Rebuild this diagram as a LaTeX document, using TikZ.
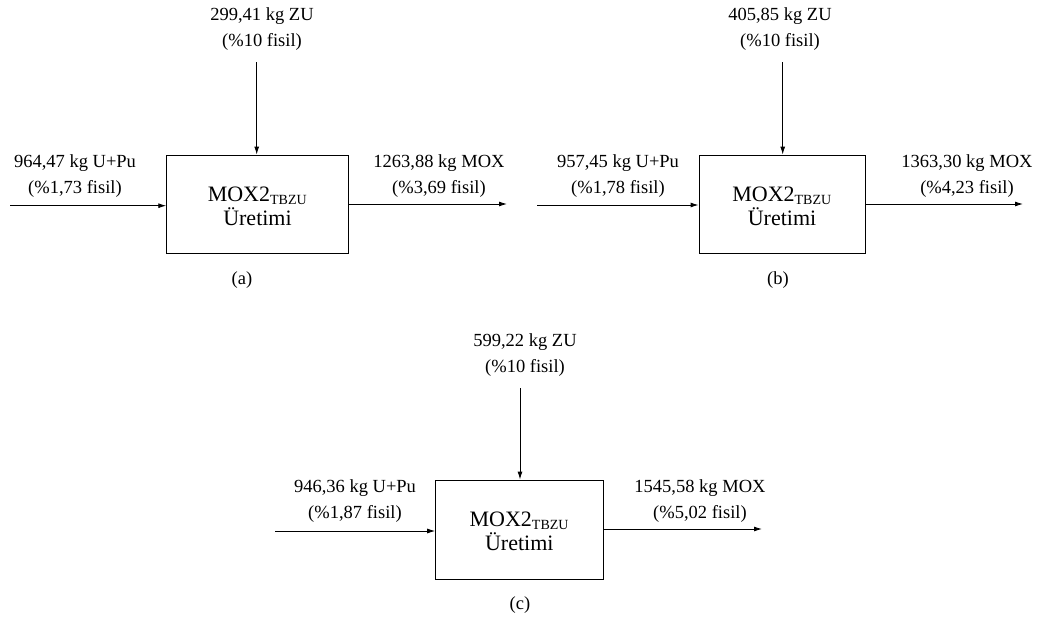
\documentclass[tikz,border=0pt]{standalone}
\usepackage{fontspec}
\setmainfont{Liberation Serif}
\usetikzlibrary{arrows.meta}
\begin{document}
\begin{tikzpicture}[x=1pt,y=-1pt,
  flow/.style={line width=0.9pt,-{Latex[length=8pt,width=5pt]}},
  procbox/.style={draw,line width=0.9pt,inner sep=0pt},
  lbl/.style={font=\fontsize{18.5}{26}\selectfont,align=center,inner sep=0pt},
  proclbl/.style={font=\fontsize{22}{26}\selectfont,align=center,inner sep=0pt},
  sublabel/.style={font=\fontsize{18.5}{22}\selectfont,inner sep=0pt}]
\useasboundingbox (0,0) rectangle (1037,621);
\newcommand{\proctext}{MOX2\textsubscript{\fontsize{14}{14}\selectfont TBZU}\\[-2pt]Üretimi}

% (a)
\node[procbox,minimum width=181.6pt,minimum height=98pt] (ba) at (257.5,204) {};
\node[proclbl] (ta) at (257.5,206) {\proctext};
\coordinate (ia) at (10,205.7);
\coordinate (za) at (256.7,62);
\coordinate (oa) at (507,204);
\draw[flow] (ia) -- (ia -| ba.west);
\draw[flow] (za) -- (za |- ba.north);
\draw[flow] (oa -| ba.east) -- (oa);
\node[lbl] (la) at (75,176) {964,47 kg U+Pu\\(\%1,73 fisil)};
\node[lbl] (ua) at (262,29.5) {299,41 kg ZU\\(\%10 fisil)};
\node[lbl] (ra) at (439,176) {1263,88 kg MOX\\(\%3,69 fisil)};
\node[sublabel] (ca) at (242,280) {(a)};

% (b)
\node[procbox,minimum width=166pt,minimum height=98pt] (bb) at (782,204) {};
\node[proclbl] (tb) at (782,206) {\proctext};
\coordinate (ib) at (537,205);
\coordinate (zb) at (782.7,62);
\coordinate (ob) at (1023,204);
\draw[flow] (ib) -- (ib -| bb.west);
\draw[flow] (zb) -- (zb |- bb.north);
\draw[flow] (ob -| bb.east) -- (ob);
\node[lbl] (lb) at (618,176) {957,45 kg U+Pu\\(\%1,78 fisil)};
\node[lbl] (ub) at (780,29.5) {405,85 kg ZU\\(\%10 fisil)};
\node[lbl] (rb) at (967,176) {1363,30 kg MOX\\(\%4,23 fisil)};
\node[sublabel] (cb) at (778,280) {(b)};

% (c)
\node[procbox,minimum width=167.3pt,minimum height=99pt] (bc) at (519.3,529.5) {};
\node[proclbl] (tc) at (519.3,531.5) {\proctext};
\coordinate (ic) at (275,531);
\coordinate (zc) at (520,388);
\coordinate (oc) at (762,529);
\draw[flow] (ic) -- (ic -| bc.west);
\draw[flow] (zc) -- (zc |- bc.north);
\draw[flow] (oc -| bc.east) -- (oc);
\node[lbl] (lc) at (355,501) {946,36 kg U+Pu\\(\%1,87 fisil)};
\node[lbl] (uc) at (525,355.5) {599,22 kg ZU\\(\%10 fisil)};
\node[lbl] (rc) at (700,501) {1545,58 kg MOX\\(\%5,02 fisil)};
\node[sublabel] (cc) at (520,605) {(c)};
\end{tikzpicture}
\end{document}
